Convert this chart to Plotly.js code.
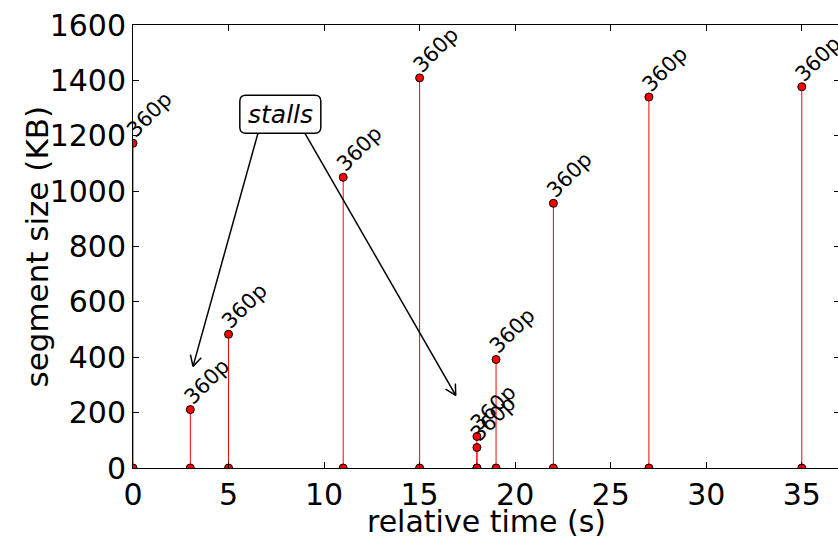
<!DOCTYPE html>
<html>
<head>
<meta charset="utf-8">
<script src="https://cdn.plot.ly/plotly-3.0.1.min.js"></script>
<style>
  html, body { margin: 0; padding: 0; overflow: hidden; background: #fff; }
</style>
</head>
<body>
<div id="chart" style="width:840px;height:539px"></div>
<script>
// Video segments: request time (s), segment size (KB) and quality level
const segTime = [0, 3, 5, 11, 15, 18, 18, 19, 22, 27, 35];
const segSize = [1173, 211, 483, 1050, 1409, 74, 114, 392, 956, 1340, 1377];
const segQuality = ['360p', '360p', '360p', '360p', '360p', '360p', '360p', '360p', '360p', '360p', '360p'];

const xTicks = [0, 5, 10, 15, 20, 25, 30, 35];
const yTicks = [0, 200, 400, 600, 800, 1000, 1200, 1400, 1600];

const xRange = [0, 37];
const yRange = [0, 1600];

const FONT = 'DejaVu Sans, Bitstream Vera Sans, sans-serif';

// stems: vertical lines from the baseline up to each segment size
const stemX = [], stemY = [];
segTime.forEach((t, i) => { stemX.push(t, t, null); stemY.push(0, segSize[i], null); });

const stems = {
  type: 'scatter', mode: 'lines', x: stemX, y: stemY,
  line: { color: '#ff0000', width: 1 }, hoverinfo: 'skip', showlegend: false
};
const heads = {
  type: 'scatter', mode: 'markers', x: segTime, y: segSize, cliponaxis: true,
  marker: { color: '#ff0000', size: 8, line: { color: '#000', width: 1 } },
  showlegend: false
};
const bases = {
  type: 'scatter', mode: 'markers', x: segTime, y: segTime.map(() => 0), cliponaxis: true,
  marker: { color: '#ff0000', size: 8, line: { color: '#000', width: 1 } },
  showlegend: false, hoverinfo: 'skip'
};

// quality labels, tilted 45 degrees above each stem head
const annotations = segTime.map((t, i) => ({
  x: t, y: segSize[i], xref: 'x', yref: 'y',
  text: segQuality[i], showarrow: false, textangle: -45,
  xanchor: 'left', yanchor: 'bottom', xshift: -14, yshift: -2,
  font: { family: FONT, size: 21, color: '#000' }
}));

// y axis title, placed beside the tick labels
annotations.push({
  xref: 'paper', yref: 'paper', x: (36 - 133) / 707, y: 0.5,
  text: 'segment size (KB)', textangle: -90, showarrow: false,
  xanchor: 'center', yanchor: 'middle',
  font: { family: FONT, size: 31, color: '#000' }
});

// "stalls" callout with two arrows pointing at the playback stalls
const callout = { x: 7.71, y: 1278 };
const arrows = [
  { tail: [6.54, 1209], head: [3.14, 367] },
  { tail: [9.0, 1209], head: [16.89, 262] }
];

annotations.push({
  x: callout.x, y: callout.y, xref: 'x', yref: 'y', text: '<i>stalls</i>',
  showarrow: false, xanchor: 'center', yanchor: 'middle',
  font: { family: FONT, size: 25, color: '#000' }
});

const plotW = 840 - 133, plotH = 539 - 25 - 71;
const pxX = plotW / (xRange[1] - xRange[0]);
const pxY = plotH / (yRange[1] - yRange[0]);

const shapes = [];
// rounded box behind the callout text
const hw = 40.5, hh = 19, r = 6;
shapes.push({
  type: 'path', xref: 'x', yref: 'y', xsizemode: 'pixel', ysizemode: 'pixel',
  xanchor: callout.x, yanchor: callout.y,
  path: `M ${-hw + r},${-hh} L ${hw - r},${-hh} Q ${hw},${-hh} ${hw},${-hh + r} L ${hw},${hh - r} Q ${hw},${hh} ${hw - r},${hh} L ${-hw + r},${hh} Q ${-hw},${hh} ${-hw},${hh - r} L ${-hw},${-hh + r} Q ${-hw},${-hh} ${-hw + r},${-hh} Z`,
  fillcolor: '#fff', line: { color: '#000', width: 1.5 }, layer: 'above'
});
// arrow shafts and open heads
arrows.forEach(a => {
  shapes.push({
    type: 'line', xref: 'x', yref: 'y',
    x0: a.tail[0], y0: a.tail[1], x1: a.head[0], y1: a.head[1],
    line: { color: '#000', width: 1.5 }, layer: 'above'
  });
  const bx = (a.tail[0] - a.head[0]) * pxX, by = (a.tail[1] - a.head[1]) * pxY;
  const len = Math.hypot(bx, by), ux = bx / len, uy = by / len;
  const L = 12, th = 28 * Math.PI / 180;
  [th, -th].forEach(ang => {
    const dx = (ux * Math.cos(ang) - uy * Math.sin(ang)) * L;
    const dy = (ux * Math.sin(ang) + uy * Math.cos(ang)) * L;
    shapes.push({
      type: 'line', xref: 'x', yref: 'y', xsizemode: 'pixel', ysizemode: 'pixel',
      xanchor: a.head[0], yanchor: a.head[1], x0: 0, y0: 0, x1: dx, y1: dy,
      line: { color: '#000', width: 1.5 }, layer: 'above'
    });
  });
});

const axisCommon = {
  showline: true, linecolor: '#000', linewidth: 1, mirror: 'ticks',
  ticks: 'inside', ticklen: 6, tickwidth: 1, tickcolor: '#000',
  showgrid: false, zeroline: false, automargin: false,
  tickfont: { family: FONT, size: 30, color: '#000' }
};

const layout = {
  width: 840, height: 539,
  margin: { l: 133, r: 0, t: 25, b: 71 },
  paper_bgcolor: '#fff', plot_bgcolor: '#fff',
  showlegend: false,
  xaxis: Object.assign({}, axisCommon, {
    range: xRange, tickvals: xTicks, ticktext: xTicks.map(String),
    title: { text: 'relative time (s)', font: { family: FONT, size: 30, color: '#000' }, standoff: 4 }
  }),
  yaxis: Object.assign({}, axisCommon, {
    range: yRange, tickvals: yTicks, ticktext: yTicks.map(String)
  }),
  annotations: annotations,
  shapes: shapes
};

Plotly.newPlot('chart', [stems, bases, heads], layout, { displayModeBar: false, staticPlot: true });
</script>
</body>
</html>
